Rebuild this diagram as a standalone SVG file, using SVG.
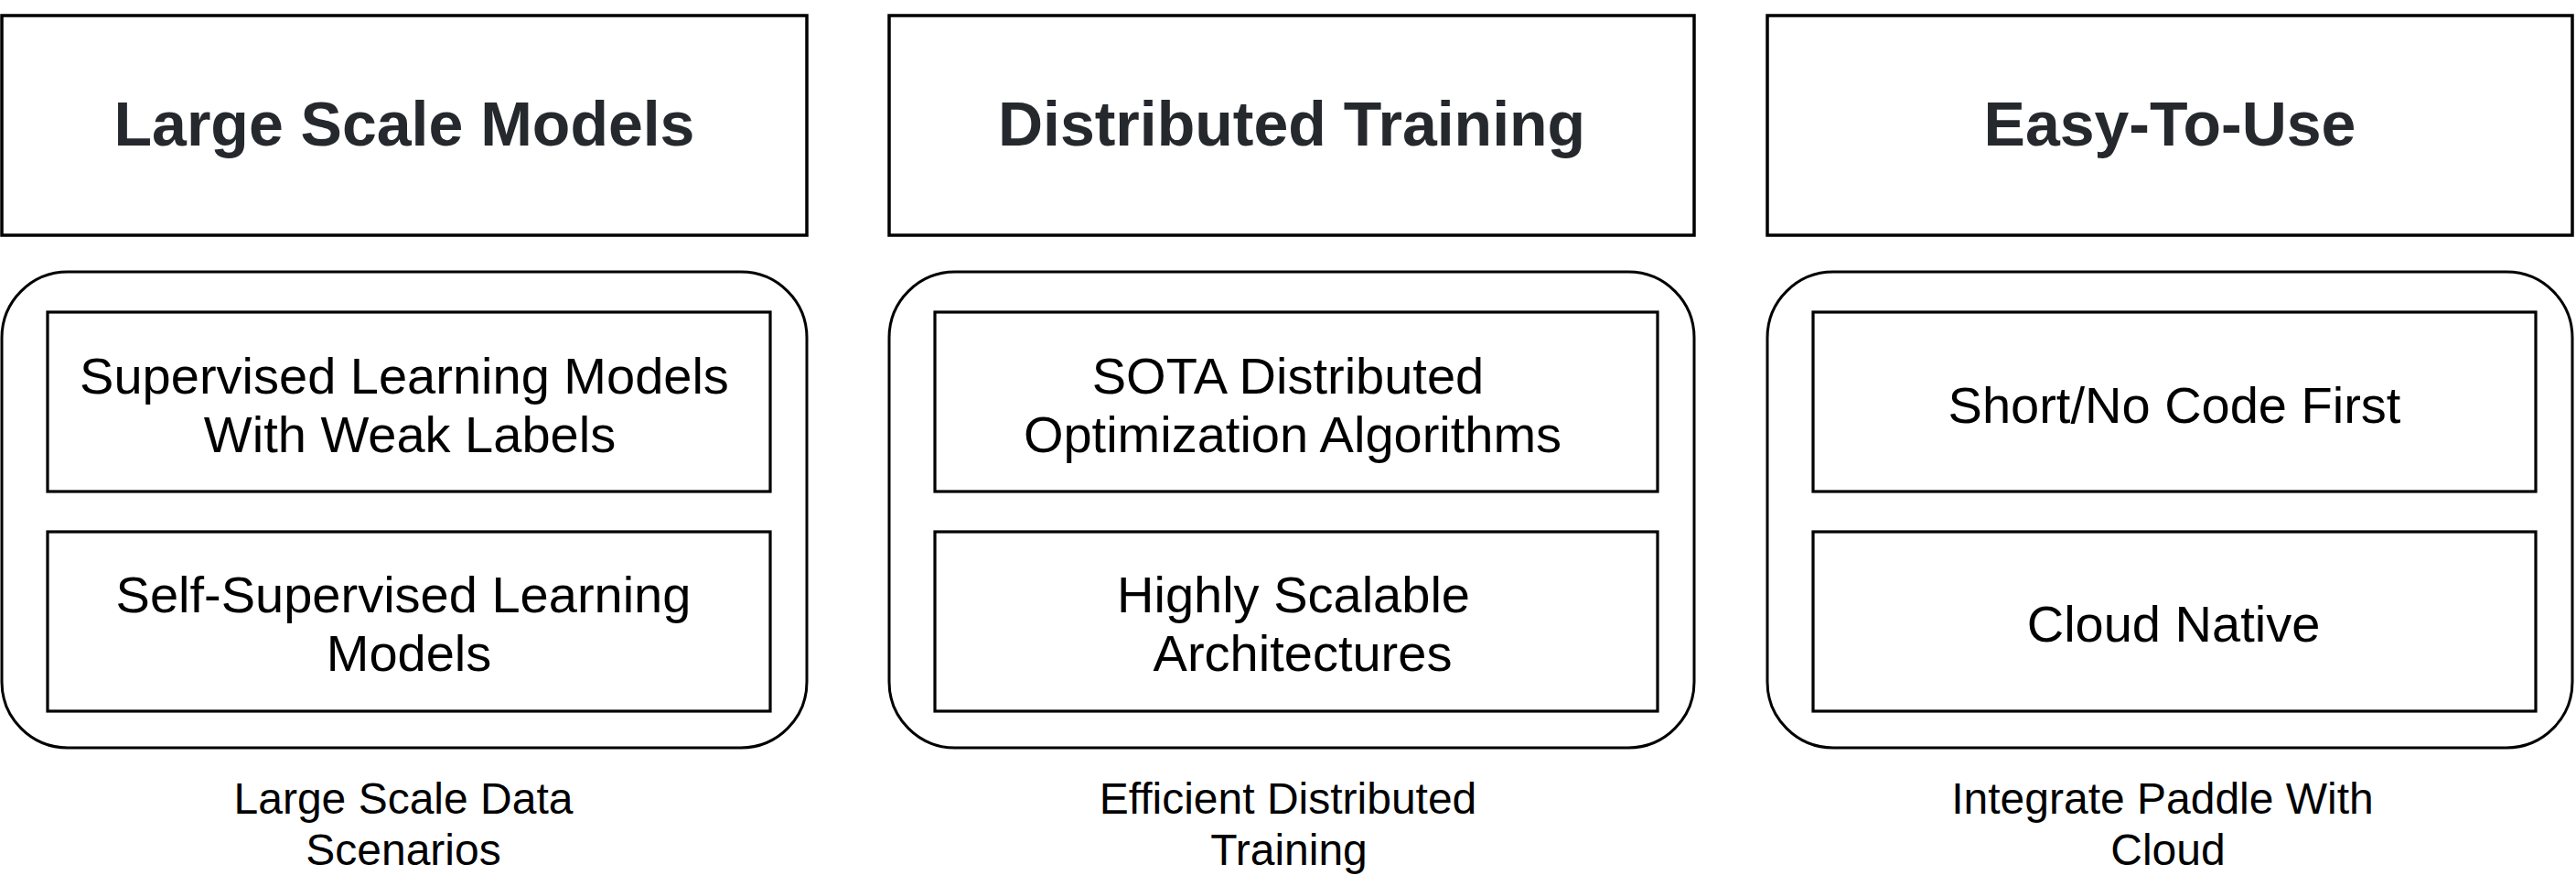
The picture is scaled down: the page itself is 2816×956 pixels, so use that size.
<svg xmlns="http://www.w3.org/2000/svg" width="2816" height="956" viewBox="0 0 2816 956">
<style>
  .head { fill: #ffffff; stroke: #000000; stroke-width: 3.5; }
  .cont { fill: #ffffff; stroke: #000000; stroke-width: 3; }
  .inner { fill: #ffffff; stroke: #000000; stroke-width: 3.2; }
  text { font-family: "Liberation Sans", Arial, Helvetica, sans-serif; text-anchor: middle; }
  .title { font-size: 68px; font-weight: bold; fill: #25292d; }
  .body { font-size: 56px; fill: #000000; }
  .cap { font-size: 48px; fill: #000000; }
</style>
<rect width="2816" height="956" fill="#ffffff"/>

<g id="col1">
  <g id="head1">
    <rect class="head" x="2" y="17" width="880" height="240"/>
    <text class="title" x="442" y="159">Large Scale Models</text>
  </g>
  <g id="container1">
    <rect class="cont" x="2" y="297" width="880" height="520" rx="72" ry="72"/>
  </g>
  <g id="item1a">
    <rect class="inner" x="52" y="341" width="790" height="196"/>
    <text class="body" x="442" y="430">Supervised Learning Models</text>
    <text class="body" x="448" y="494">With Weak Labels</text>
  </g>
  <g id="item1b">
    <rect class="inner" x="52" y="581" width="790" height="196"/>
    <text class="body" x="441" y="669">Self-Supervised Learning</text>
    <text class="body" x="447" y="733">Models</text>
  </g>
  <g id="caption1">
    <text class="cap" x="441" y="889">Large Scale Data</text>
    <text class="cap" x="441" y="945">Scenarios</text>
  </g>
</g>

<g id="col2">
  <g id="head2">
    <rect class="head" x="972" y="17" width="880" height="240"/>
    <text class="title" x="1412" y="159">Distributed Training</text>
  </g>
  <g id="container2">
    <rect class="cont" x="972" y="297" width="880" height="520" rx="72" ry="72"/>
  </g>
  <g id="item2a">
    <rect class="inner" x="1022" y="341" width="790" height="196"/>
    <text class="body" x="1408" y="430">SOTA Distributed</text>
    <text class="body" x="1413" y="494">Optimization Algorithms</text>
  </g>
  <g id="item2b">
    <rect class="inner" x="1022" y="581" width="790" height="196"/>
    <text class="body" x="1414" y="669">Highly Scalable</text>
    <text class="body" x="1424" y="733">Architectures</text>
  </g>
  <g id="caption2">
    <text class="cap" x="1408" y="889">Efficient Distributed</text>
    <text class="cap" x="1409" y="945">Training</text>
  </g>
</g>

<g id="col3">
  <g id="head3">
    <rect class="head" x="1932" y="17" width="880" height="240"/>
    <text class="title" x="2372" y="159">Easy-To-Use</text>
  </g>
  <g id="container3">
    <rect class="cont" x="1932" y="297" width="880" height="520" rx="72" ry="72"/>
  </g>
  <g id="item3a">
    <rect class="inner" x="1982" y="341" width="790" height="196"/>
    <text class="body" x="2377" y="462">Short/No Code First</text>
  </g>
  <g id="item3b">
    <rect class="inner" x="1982" y="581" width="790" height="196"/>
    <text class="body" x="2376" y="701">Cloud Native</text>
  </g>
  <g id="caption3">
    <text class="cap" x="2364" y="889">Integrate Paddle With</text>
    <text class="cap" x="2370" y="945">Cloud</text>
  </g>
</g>

<g id="connectors"></g>
</svg>
